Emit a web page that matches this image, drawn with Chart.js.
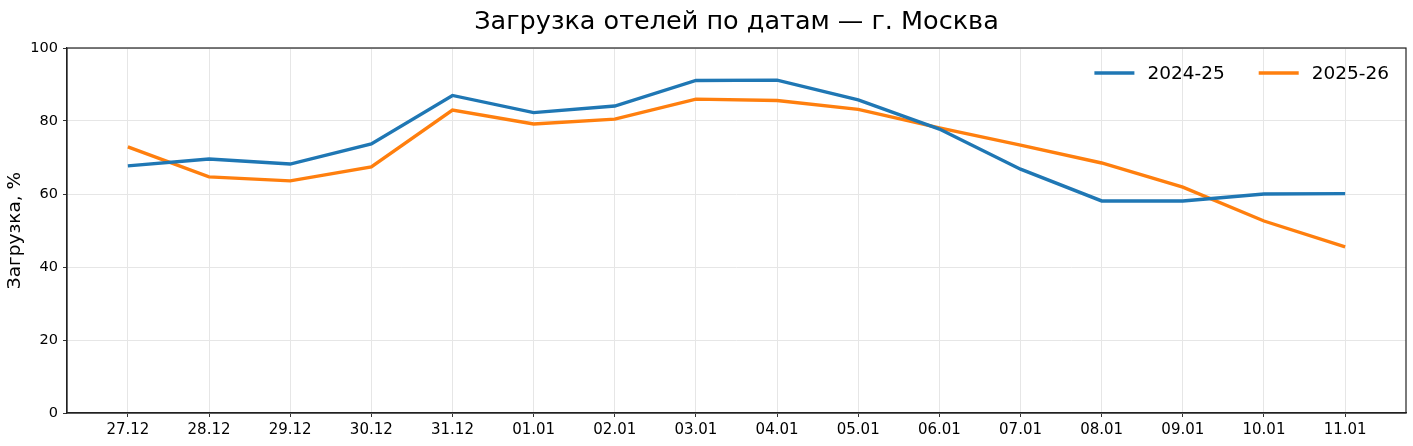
<!DOCTYPE html>
<html>
<head>
<meta charset="utf-8">
<script src="https://cdn.jsdelivr.net/npm/chart.js@4.4.1/dist/chart.umd.min.js"></script>
<style>
  html, body { margin: 0; padding: 0; background: #fff; }
  #wrap { width: 1413px; height: 446px; }
</style>
</head>
<body>
<div id="wrap"><canvas id="c"></canvas></div>
<script>
const dates = ["27.12", "28.12", "29.12", "30.12", "31.12", "01.01", "02.01", "03.01",
  "04.01", "05.01", "06.01", "07.01", "08.01", "09.01", "10.01", "11.01"];
const load2425 = [67.7, 69.6, 68.2, 73.7, 87.0, 82.3, 84.1, 91.1, 91.2, 85.8, 77.8, 66.8, 58.1, 58.1, 60.0, 60.1];
const load2526 = [72.9, 64.7, 63.6, 67.4, 83.0, 79.2, 80.5, 86.0, 85.6, 83.2, 78.1, 73.4, 68.5, 61.9, 52.6, 45.5];
const yTicks = [0, 20, 40, 60, 80, 100];
const seriesNames = ["2024-25", "2025-26"];
const colors = ["#1f77b4", "#ff7f0e"];
const titleText = "Загрузка отелей по датам — г. Москва";

const FONT = "'DejaVu Sans', sans-serif";

function pts(arr) {
  return arr.map((v, i) => ({ x: i, y: v }));
}

// frame around the plot + title + legend inside the plot
const extras = {
  id: "extras",
  afterDraw(chart) {
    const ctx = chart.ctx;
    const a = chart.chartArea;
    ctx.save();
    ctx.strokeStyle = "#222";
    ctx.lineWidth = 1.2;
    ctx.strokeRect(a.left, a.top, a.right - a.left, a.bottom - a.top);

    ctx.fillStyle = "#000";
    ctx.font = "25.5px " + FONT;
    ctx.textAlign = "center";
    ctx.textBaseline = "middle";
    ctx.fillText(titleText, (a.left + a.right) / 2, 22);

    // legend
    ctx.font = "18.5px " + FONT;
    ctx.textAlign = "left";
    const y = a.top + 25;
    let x = a.right - 17;
    const items = chart.data.datasets.map(d => ({ label: d.label, color: d.borderColor }));
    for (let i = items.length - 1; i >= 0; i--) {
      const w = ctx.measureText(items[i].label).width;
      x -= w;
      ctx.fillStyle = "#000";
      ctx.fillText(items[i].label, x, y + 1);
      x -= 13;
      ctx.strokeStyle = items[i].color;
      ctx.lineWidth = 3.4;
      ctx.beginPath();
      ctx.moveTo(x - 40, y);
      ctx.lineTo(x, y);
      ctx.stroke();
      x -= 40 + 34;
    }
    ctx.restore();
  }
};

new Chart(document.getElementById("c"), {
  type: "line",
  data: {
    datasets: [
      { label: seriesNames[0], data: pts(load2425), borderColor: colors[0], backgroundColor: colors[0],
        borderWidth: 3.4, pointRadius: 0, tension: 0 },
      { label: seriesNames[1], data: pts(load2526), borderColor: colors[1], backgroundColor: colors[1],
        borderWidth: 3.4, pointRadius: 0, tension: 0 }
    ]
  },
  options: {
    responsive: true,
    maintainAspectRatio: false,
    animation: false,
    layout: { padding: { top: 48, right: 7, left: 0, bottom: 0 } },
    plugins: {
      legend: { display: false },
      title: { display: false },
      tooltip: { enabled: false }
    },
    scales: {
      x: {
        type: "linear",
        min: -0.75,
        max: 15.75,
        afterBuildTicks: axis => { axis.ticks = dates.map((d, i) => ({ value: i })); },
        afterFit: axis => { axis.height = 33; },
        ticks: {
          callback: v => dates[v],
          color: "#000",
          font: { family: FONT, size: 15 },
          padding: 4,
          maxRotation: 0,
          autoSkip: false
        },
        grid: { color: "#e6e6e6", lineWidth: 1, tickColor: "#333", tickLength: 4 },
        border: { color: "#222", width: 1.2 }
      },
      y: {
        min: 0,
        max: 100,
        afterBuildTicks: axis => { axis.ticks = yTicks.map(v => ({ value: v })); },
        afterFit: axis => { axis.width = 67; },
        ticks: {
          color: "#000",
          font: { family: FONT, size: 14.5 },
          padding: 5
        },
        grid: { color: "#e6e6e6", lineWidth: 1, tickColor: "#333", tickLength: 4 },
        border: { color: "#222", width: 1.2 },
        title: {
          display: true,
          text: "Загрузка, %",
          color: "#000",
          font: { family: FONT, size: 18.5 },
          padding: { top: 4, bottom: 0 }
        }
      }
    }
  },
  plugins: [extras]
});
</script>
</body>
</html>
